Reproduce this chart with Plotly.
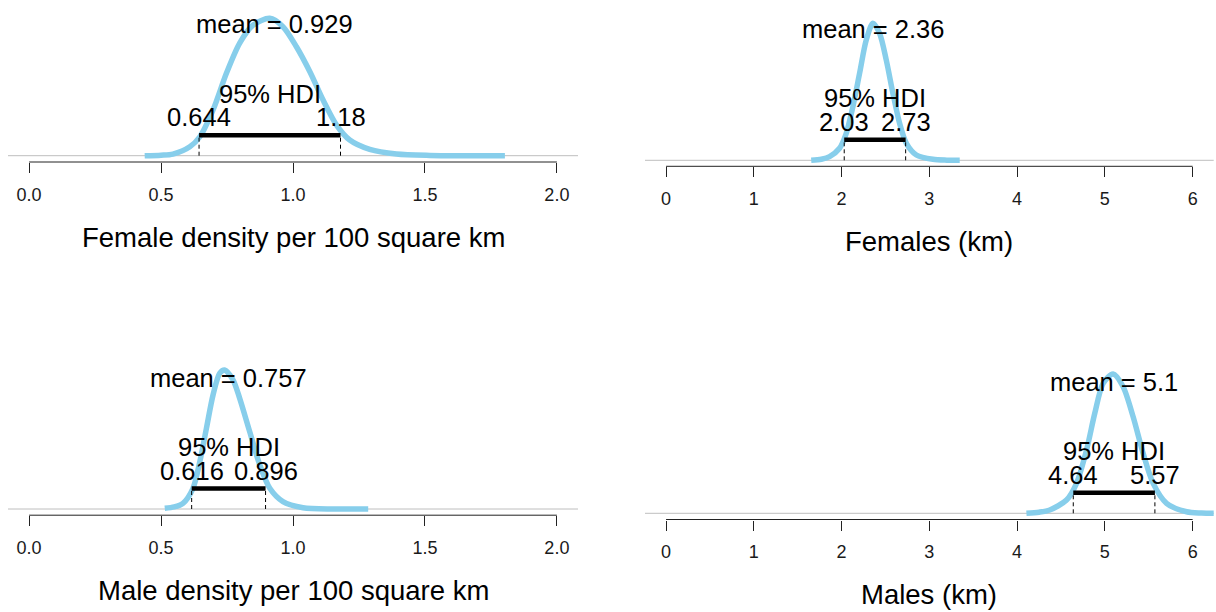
import plotly.graph_objects as go

# ---------------- data ----------------
# Female density per 100 square km
fdens_x = [0.438, 0.50, 0.545, 0.609, 0.647, 0.697, 0.748, 0.798, 0.849, 0.912, 0.962, 1.013,
           1.064, 1.114, 1.165, 1.215, 1.291, 1.392, 1.519, 1.65, 1.803]
fdens_y = [0.0, 0.004, 0.012, 0.065, 0.138, 0.333, 0.602, 0.820, 0.951, 1.0, 0.939, 0.793,
           0.611, 0.405, 0.223, 0.114, 0.046, 0.012, 0.002, 0.0, 0.0]
fdens_mean = 0.929
fdens_hdi = [0.644, 1.18]

# Females (km)
fkm_x = [1.654, 1.77, 1.863, 1.977, 2.053, 2.129, 2.205, 2.281, 2.357, 2.433, 2.509, 2.585,
         2.661, 2.738, 2.852, 3.041, 3.2, 3.346]
fkm_y = [0.0, 0.008, 0.027, 0.088, 0.197, 0.392, 0.635, 0.878, 1.0, 0.927, 0.732, 0.489,
         0.270, 0.124, 0.039, 0.007, 0.001, 0.0]
fkm_mean = 2.36
fkm_hdi = [2.03, 2.73]

# Male density per 100 square km
mdens_x = [0.514, 0.55, 0.583, 0.621, 0.647, 0.672, 0.697, 0.722, 0.741, 0.773, 0.798, 0.836,
           0.874, 0.912, 0.962, 1.038, 1.152, 1.285]
mdens_y = [0.005, 0.015, 0.041, 0.149, 0.341, 0.581, 0.820, 0.976, 1.0, 0.928, 0.796, 0.556,
           0.317, 0.149, 0.053, 0.009, 0.0, 0.0]
mdens_mean = 0.757
mdens_hdi = [0.616, 0.896]

# Males (km)
mkm_x = [4.106, 4.25, 4.372, 4.563, 4.677, 4.791, 4.885, 4.980, 5.094, 5.208, 5.322, 5.436,
         5.550, 5.703, 5.931, 6.1, 6.3]
mkm_y = [0.0, 0.008, 0.024, 0.095, 0.215, 0.454, 0.718, 0.933, 1.0, 0.909, 0.693, 0.430,
         0.215, 0.072, 0.011, 0.002, 0.0]
mkm_mean = 5.1
mkm_hdi = [4.64, 5.57]

dens_ticks = [0.0, 0.5, 1.0, 1.5, 2.0]
dens_ticklabels = ["0.0", "0.5", "1.0", "1.5", "2.0"]
km_ticks = [0, 1, 2, 3, 4, 5, 6]
km_ticklabels = ["0", "1", "2", "3", "4", "5", "6"]

titles = ["Female density per 100 square km", "Females (km)",
          "Male density per 100 square km", "Males (km)"]

# ---------------- layout constants (pixels) ----------------
W, H = 1216, 612
FONT = "Liberation Sans, Arial, sans-serif"
CURVE_COLOR = "#87CEEB"

# plot-region x extents in px
LEFT_PX = (8, 578)
RIGHT_PX = (645, 1213.7)

panels = [
    dict(x=fdens_x, y=fdens_y, mean=fdens_mean, hdi=fdens_hdi, ticks=dens_ticks,
         labels=dens_ticklabels, title=titles[0], xpx=LEFT_PX,
         axis=162.0, zero=155.7, scale=137.4, top=0.0, title_px=238),
    dict(x=fkm_x, y=fkm_y, mean=fkm_mean, hdi=fkm_hdi, ticks=km_ticks,
         labels=km_ticklabels, title=titles[1], xpx=RIGHT_PX,
         axis=166.3, zero=160.3, scale=137.0, top=0.0, title_px=242),
    dict(x=mdens_x, y=mdens_y, mean=mdens_mean, hdi=mdens_hdi, ticks=dens_ticks,
         labels=dens_ticklabels, title=titles[2], xpx=LEFT_PX,
         axis=515.2, zero=509.0, scale=139.0, top=352.0, title_px=590),
    dict(x=mkm_x, y=mkm_y, mean=mkm_mean, hdi=mkm_hdi, ticks=km_ticks,
         labels=km_ticklabels, title=titles[3], xpx=RIGHT_PX,
         axis=519.5, zero=513.3, scale=139.3, top=352.0, title_px=594),
]

# text offsets above the zero line (px)
MEAN_OFF = 131.5
HDI_TXT_OFF = 62.0
HDI_NUM_OFF = 38.5
BAR_OFF = 20.5

fig = go.Figure()
shapes = []
annotations = []

for i, p in enumerate(panels, start=1):
    xs = "" if i == 1 else str(i)
    xref, yref = "x" + xs, "y" + xs
    lo_t, hi_t = p["ticks"][0], p["ticks"][-1]
    span = hi_t - lo_t
    xr = [lo_t - 0.04 * span, hi_t + 0.04 * span]
    sc = p["scale"]
    yr = [-(p["axis"] - p["zero"]) / sc, (p["zero"] - p["top"]) / sc]
    xdom = [p["xpx"][0] / W, p["xpx"][1] / W]
    ydom = [1 - p["axis"] / H, 1 - p["top"] / H]

    fig.add_trace(go.Scatter(x=p["x"], y=p["y"], mode="lines",
                             line=dict(color=CURVE_COLOR, width=5.5, shape="spline", smoothing=0.8),
                             xaxis=xref, yaxis=yref, hoverinfo="skip", showlegend=False))
    bar_y = BAR_OFF / sc
    lo, hi = p["hdi"]
    for v in (lo, hi):
        fig.add_trace(go.Scatter(x=[v, v], y=[0, bar_y], mode="lines",
                                 line=dict(color="black", width=1, dash="4px,3px"),
                                 xaxis=xref, yaxis=yref, hoverinfo="skip", showlegend=False))
    fig.add_trace(go.Scatter(x=[lo, hi], y=[bar_y, bar_y], mode="lines",
                             line=dict(color="black", width=4.5),
                             xaxis=xref, yaxis=yref, hoverinfo="skip", showlegend=False))

    fig.update_layout(**{
        "xaxis" + xs: dict(domain=xdom, range=xr, anchor=yref, tickmode="array",
                           tickvals=p["ticks"], ticktext=p["labels"], ticks="outside",
                           ticklen=10, tickwidth=1, tickcolor="#222", showline=False,
                           showgrid=False, zeroline=False, fixedrange=True,
                           tickfont=dict(family=FONT, size=18, color="#1a1a1a"),
                           ticklabelstandoff=6),
        "yaxis" + xs: dict(domain=ydom, range=yr, anchor=xref, visible=False,
                           showgrid=False, zeroline=False, fixedrange=True),
    })

    # gray zero line across the plot region
    shapes.append(dict(type="line", xref=xref + " domain", yref=yref, x0=0, x1=1, y0=0, y1=0,
                       line=dict(color="#BEBEBE", width=1), layer="below"))
    # axis line spanning first to last tick
    shapes.append(dict(type="line", xref=xref, yref=yref + " domain", x0=lo_t, x1=hi_t,
                       y0=0, y1=0, line=dict(color="#222", width=1)))

    tf = dict(family=FONT, size=25.5, color="black")
    annotations.append(dict(xref=xref, yref=yref, x=p["mean"], y=MEAN_OFF / sc,
                            text=f"mean = {p['mean']:.3g}", showarrow=False,
                            xanchor="center", yanchor="middle", font=tf))
    annotations.append(dict(xref=xref, yref=yref, x=(lo + hi) / 2, y=HDI_TXT_OFF / sc,
                            text="95% HDI", showarrow=False,
                            xanchor="center", yanchor="middle", font=tf))
    for v in (lo, hi):
        annotations.append(dict(xref=xref, yref=yref, x=v, y=HDI_NUM_OFF / sc,
                                text=f"{v:.3g}", showarrow=False,
                                xanchor="center", yanchor="middle", font=tf))
    annotations.append(dict(xref=xref + " domain", yref="paper", x=0.5, y=1 - p["title_px"] / H,
                            text=p["title"], showarrow=False, xanchor="center", yanchor="middle",
                            font=dict(family=FONT, size=27.5, color="black")))

fig.update_layout(width=W, height=H, margin=dict(l=0, r=0, t=0, b=0),
                  paper_bgcolor="white", plot_bgcolor="white",
                  shapes=shapes, annotations=annotations, showlegend=False)

fig.write_html("out.html", config={"displayModeBar": False},
               post_script="document.body.style.margin='0';document.body.style.overflow='hidden';")
